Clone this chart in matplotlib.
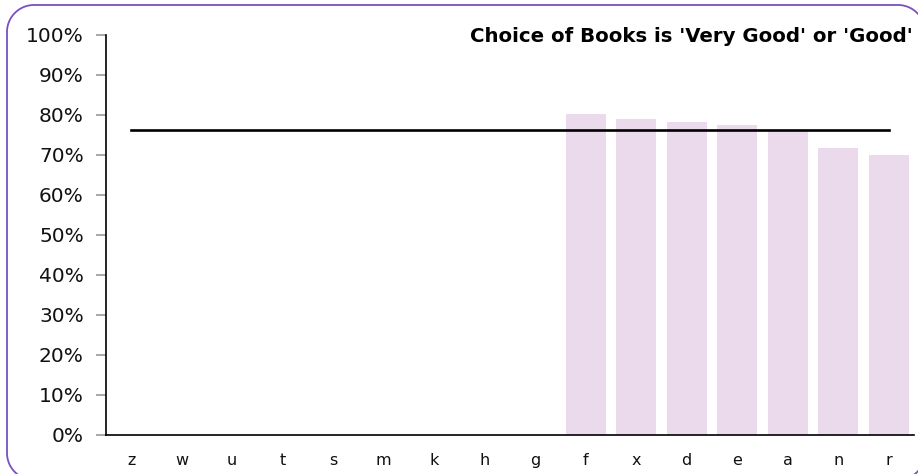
import matplotlib.pyplot as plt
import numpy as np
from matplotlib.ticker import PercentFormatter

# Share rating "Very Good" or "Good" by branch, with the overall average
branches = ["z", "w", "u", "t", "s", "m", "k", "h", "g", "f", "x", "d", "e", "a", "n", "r"]
rating = [None, None, None, None, None, None, None, None, None,
          80.2, 78.9, 78.1, 77.3, 75.9, 71.7, 70.0]
average = 76.2

fig = plt.figure(figsize=(9.18, 4.74), dpi=100)

# rounded frame around the whole chart (pixel units), running off the right and bottom edges;
# corners are built from short straight segments so clipping at the canvas edge stays clean
overlay = fig.add_axes([0, 0, 1, 1])
overlay.set_xlim(0, 918)
overlay.set_ylim(0, 474)
overlay.axis("off")
x0, y0, x1, y1, r = 7, -6, 925, 469, 27
corners = [((x1 - r, y1 - r), 0, 90), ((x0 + r, y1 - r), 90, 180),
           ((x0 + r, y0 + r), 180, 270), ((x1 - r, y0 + r), 270, 360)]
fx, fy = [], []
for (cx, cy), a0, a1 in corners:
    t = np.radians(np.linspace(a0, a1, 30))
    fx.extend(cx + r * np.cos(t))
    fy.extend(cy + r * np.sin(t))
fx.append(fx[0])
fy.append(fy[0])
overlay.plot(fx, fy, color="#7B4FC0", linewidth=1.3)

ax = fig.add_axes([106 / 918, 39 / 474, 808 / 918, 400.5 / 474])
ax.patch.set_alpha(0)

pos = list(range(len(branches)))
heights = [v if v is not None else 0 for v in rating]
ax.bar(pos, heights, width=0.8, color="#EBDAEC", zorder=1)
ax.plot([pos[0], pos[-1]], [average, average], color="black", linewidth=1.9, zorder=2)

ax.set_xlim(-0.5, len(branches) - 0.5)
ax.set_ylim(0, 100)
ax.set_yticks(range(0, 101, 10))
ax.yaxis.set_major_formatter(PercentFormatter(decimals=0))
ax.set_xticks(pos)
ax.set_xticklabels(branches)

for side in ["top", "right"]:
    ax.spines[side].set_visible(False)
ax.spines["left"].set_linewidth(1.2)
ax.spines["bottom"].set_linewidth(1.2)
ax.tick_params(axis="y", length=7, width=1.2, color="#999999", labelsize=14.5,
               pad=9, labelcolor="#111111")
ax.tick_params(axis="x", length=0, labelsize=11.5, pad=13, labelcolor="#111111")

fig.text(913 / 918, 1 - 36 / 474, "Choice of Books is 'Very Good' or 'Good'",
         ha="right", va="center", fontsize=14.2, fontweight="bold")

fig.savefig("out.png", dpi=100)
